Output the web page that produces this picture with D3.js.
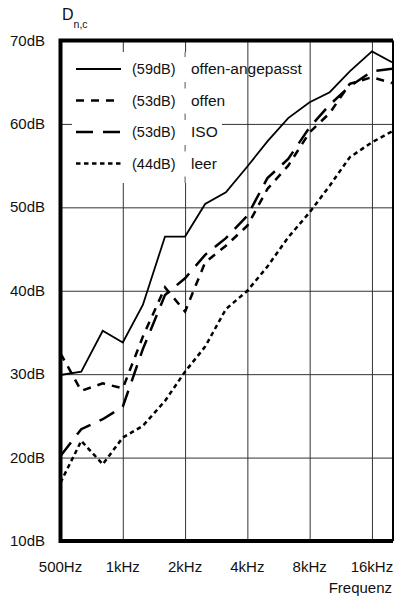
<!DOCTYPE html>
<html>
<head>
<meta charset="utf-8">
<script src="https://cdn.jsdelivr.net/npm/d3@7"></script>
<style>
  body { margin: 0; background: #fff; }
  svg text { font-family: "Liberation Sans", Arial, sans-serif; fill: #111; }
</style>
</head>
<body>
<svg id="chart" width="394" height="599"></svg>
<script>
// Terzbänder
var freqs = [500, 630, 800, 1000, 1250, 1600, 2000, 2500, 3150, 4000, 5000, 6300, 8000, 10000, 12500, 16000, 20000];

// Messreihen (dB)
var angepasst = [29.9, 30.3, 35.2, 33.8, 38.3, 46.5, 46.5, 50.4, 51.8, 54.9, 57.9, 60.7, 62.6, 63.8, 66.3, 68.7, 67.4];
var offen     = [32.5, 28.0, 28.9, 28.3, 34.5, 40.4, 37.5, 43.4, 45.4, 47.8, 52.2, 55.0, 59.0, 61.3, 64.8, 65.6, 64.9];
var iso       = [20.2, 23.4, 24.6, 26.1, 33.0, 39.5, 41.5, 44.3, 46.3, 49.0, 53.5, 55.8, 59.6, 62.3, 64.5, 66.3, 66.6];
var leer      = [17.0, 22.0, 19.2, 22.4, 23.8, 26.8, 30.3, 33.3, 37.8, 40.0, 42.9, 46.4, 49.4, 52.6, 56.0, 57.8, 59.1];

var seriesNames  = ["offen-angepasst", "offen", "ISO", "leer"];
var seriesValues = ["(59dB)", "(53dB)", "(53dB)", "(44dB)"];

var xTicks = [500, 1000, 2000, 4000, 8000, 16000];
var xTickLabels = ["500Hz", "1kHz", "2kHz", "4kHz", "8kHz", "16kHz"];
var yTicks = [10, 20, 30, 40, 50, 60, 70];

var svg = d3.select("#chart");

var pL = 60.5, pR = 393, pT = 40.5, pB = 541;

var xScale = d3.scaleLog().domain([500, 20000]).range([pL, 392]);
var yScale = d3.scaleLinear().domain([10, 70]).range([pB, pT]);

// Gitter
svg.append("g")
    .attr("class", "grid")
    .attr("transform", "translate(0," + pB + ")")
    .call(d3.axisBottom(xScale).tickValues(xTicks.slice(1)).tickSize(-(pB - pT)).tickFormat(""))
    .call(function (g) { g.select(".domain").remove(); })
    .selectAll("line").attr("stroke", "#333").attr("stroke-width", 1);

svg.append("g")
    .attr("class", "grid")
    .attr("transform", "translate(" + pL + ",0)")
    .call(d3.axisLeft(yScale).tickValues(yTicks.slice(1, -1)).tickSize(-(pR - pL)).tickFormat(""))
    .call(function (g) { g.select(".domain").remove(); })
    .selectAll("line").attr("stroke", "#333").attr("stroke-width", 1);

// Legendenhintergrund
var legRows = [69, 100.5, 132, 163.5];
svg.append("rect")
    .attr("x", 72).attr("y", 52).attr("width", 150).attr("height", 131)
    .attr("fill", "#fff");
svg.append("line")
    .attr("x1", xScale(2000)).attr("x2", xScale(2000))
    .attr("y1", 52).attr("y2", 183)
    .attr("stroke", "#555").attr("stroke-width", 1);
legRows.forEach(function (y) {
    svg.append("rect")
        .attr("x", 128).attr("y", y - 12).attr("width", 94).attr("height", 25)
        .attr("fill", "#fff");
});

// Linien
var line = d3.line()
    .x(function (d) { return xScale(d.f); })
    .y(function (d) { return yScale(d.v); });

function pts(arr) {
    return freqs.map(function (f, i) { return { f: f, v: arr[i] }; });
}

var styles = [
    { data: angepasst, dash: null, w: 1.8 },
    { data: offen, dash: "8,7", w: 2.5 },
    { data: iso, dash: "17,10", w: 2.5 },
    { data: leer, dash: "4.5,3.5", w: 2.5 }
];

styles.forEach(function (s) {
    svg.append("path")
        .datum(pts(s.data))
        .attr("fill", "none")
        .attr("stroke", "#000")
        .attr("stroke-width", s.w)
        .attr("stroke-dasharray", s.dash)
        .attr("d", line);
});

// Legende
styles.forEach(function (s, i) {
    var y = legRows[i];
    svg.append("line")
        .attr("x1", 76).attr("x2", 121)
        .attr("y1", y).attr("y2", y)
        .attr("stroke", "#000")
        .attr("stroke-width", s.w)
        .attr("stroke-dasharray", s.dash);
    svg.append("text")
        .attr("x", 132).attr("y", y + 5)
        .attr("font-size", 14.5)
        .text(seriesValues[i]);
    svg.append("text")
        .attr("x", 191).attr("y", y + 5)
        .attr("font-size", 15.5)
        .text(seriesNames[i]);
});

// Rahmen
svg.append("line").attr("x1", pR).attr("x2", pR).attr("y1", pT).attr("y2", pB)
    .attr("stroke", "#000").attr("stroke-width", 2);
svg.append("path")
    .attr("d", "M" + pR + "," + pT + "H" + pL + "V" + pB + "H" + pR)
    .attr("fill", "none").attr("stroke", "#000").attr("stroke-width", 4);

// Achsenbeschriftung
svg.append("g").selectAll("text")
    .data(yTicks)
    .join("text")
    .attr("x", 45)
    .attr("y", function (d) { return yScale(d) + 5; })
    .attr("text-anchor", "end")
    .attr("font-size", 15)
    .text(function (d) { return d + "dB"; });

svg.append("g").selectAll("text")
    .data(xTicks)
    .join("text")
    .attr("x", function (d) { return xScale(d); })
    .attr("y", 572)
    .attr("text-anchor", "middle")
    .attr("font-size", 15)
    .text(function (d, i) { return xTickLabels[i]; });

svg.append("text")
    .attr("x", 392).attr("y", 593)
    .attr("text-anchor", "end")
    .attr("font-size", 15)
    .text("Frequenz");

var dl = svg.append("text").attr("x", 62).attr("y", 20).attr("font-size", 16);
dl.append("tspan").text("D");
dl.append("tspan").attr("font-size", 10.5).attr("dy", 8).text("n,c");
</script>
</body>
</html>
